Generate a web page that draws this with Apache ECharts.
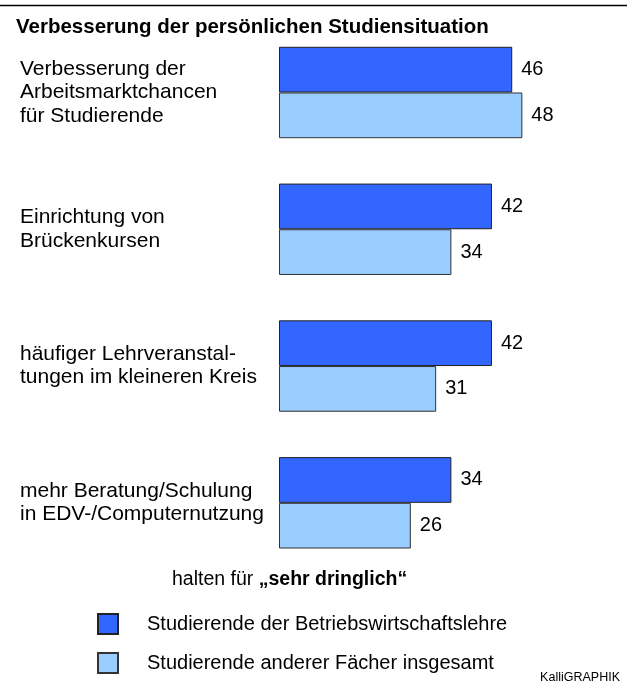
<!DOCTYPE html>
<html>
<head>
<meta charset="utf-8">
<script src="https://cdn.jsdelivr.net/npm/echarts@6/dist/echarts.min.js"></script>
<style>
  html, body { margin: 0; padding: 0; background: #fff; }
  #chart { width: 627px; height: 690px; }
</style>
</head>
<body>
<div id="chart"></div>
<script>
// Measures shown (top to bottom)
const categories = [
  'Verbesserung der\nArbeitsmarktchancen\nfür Studierende',
  'Einrichtung von\nBrückenkursen',
  'häufiger Lehrveranstal-\ntungen im kleineren Kreis',
  'mehr Beratung/Schulung\nin EDV-/Computernutzung'
];
// Share rating the measure "sehr dringlich" (%)
const bwlValues = [46, 42, 42, 34];
const otherValues = [48, 34, 31, 26];
const seriesNames = [
  'Studierende der Betriebswirtschaftslehre',
  'Studierende anderer Fächer insgesamt'
];

const FONT = '"Liberation Sans", Arial, Helvetica, sans-serif';
const chart = echarts.init(document.getElementById('chart'), null, { renderer: 'canvas' });

const barLabel = {
  show: true,
  position: 'right',
  distance: 9,
  color: '#000',
  fontFamily: FONT,
  fontSize: 20,
  padding: [3, 0, 0, 0]
};

chart.setOption({
  animation: false,
  backgroundColor: '#fff',
  textStyle: { fontFamily: FONT },
  grid: { left: 279, width: 304.2, top: 24.1, height: 547.1, containLabel: false },
  xAxis: {
    type: 'value', min: 0, max: 60,
    show: false
  },
  yAxis: {
    type: 'category',
    data: categories,
    inverse: true,
    axisLine: { show: false },
    axisTick: { show: false },
    splitLine: { show: false },
    axisLabel: {
      align: 'left',
      margin: 259,
      color: '#000',
      fontFamily: FONT,
      fontSize: 21,
      lineHeight: 23.3,
      padding: [3, 0, 0, 0]
    }
  },
  legend: {
    orient: 'vertical',
    left: 97,
    top: 613,
    padding: 0,
    itemWidth: 20,
    itemHeight: 20,
    itemGap: 17,
    icon: 'rect',
    selectedMode: false,
    textStyle: { color: '#000', fontFamily: FONT, fontSize: 20, padding: [0, 0, 0, 24] },
    data: seriesNames
  },
  series: [
    {
      name: seriesNames[0],
      type: 'bar',
      data: bwlValues,
      barWidth: 45.7,
      barGap: '0%',
      itemStyle: { color: '#3366FF', borderColor: '#222', borderWidth: 1 },
      label: barLabel
    },
    {
      name: seriesNames[1],
      type: 'bar',
      data: otherValues,
      barWidth: 45.7,
      barGap: '0%',
      itemStyle: { color: '#99CCFF', borderColor: '#333', borderWidth: 1 },
      label: barLabel
    }
  ],
  graphic: [
    { type: 'line', shape: { x1: 0, y1: 5.5, x2: 627, y2: 5.5 }, style: { stroke: '#000', lineWidth: 1.5 } },
    {
      type: 'text', left: 16, top: 17,
      style: { text: 'Verbesserung der persönlichen Studiensituation', font: 'bold 20.5px ' + FONT, fill: '#000' }
    },
    {
      type: 'text', left: 172, top: 570,
      style: {
        text: '{n|halten für }{b|„sehr dringlich“}',
        rich: {
          n: { font: '19.5px ' + FONT, fill: '#000' },
          b: { font: 'bold 19.5px ' + FONT, fill: '#000' }
        }
      }
    },
    {
      type: 'text', right: 7, top: 671,
      style: { text: 'KalliGRAPHIK', font: '12.5px ' + FONT, fill: '#000' }
    }
  ]
});
</script>
</body>
</html>
